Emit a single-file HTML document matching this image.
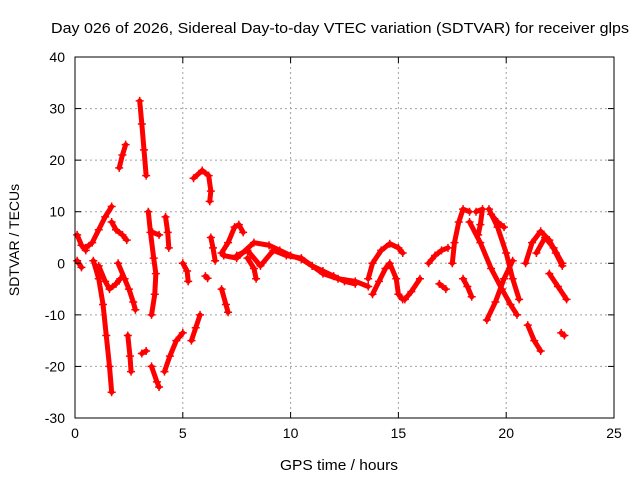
<!DOCTYPE html>
<html><head><meta charset="utf-8"><style>
body{margin:0;background:#fff}
svg{display:block;font-family:"Liberation Sans",sans-serif}
</style></head><body>
<svg id="chart" width="640" height="480" viewBox="0 0 640 480">
<rect width="640" height="480" fill="#fff"/>
<text x="340" y="33" font-size="15" text-anchor="middle" textLength="578" lengthAdjust="spacingAndGlyphs">Day 026 of 2026, Sidereal Day-to-day VTEC variation (SDTVAR) for receiver glps</text>
<text x="339" y="470" font-size="15" text-anchor="middle" textLength="118" lengthAdjust="spacingAndGlyphs">GPS time / hours</text>
<text transform="translate(19,240) rotate(-90)" font-size="14" text-anchor="middle">SDTVAR / TECUs</text>
<g id="grid"></g><g id="marks"></g><g id="axes"></g>
</svg>
<script>
const xTicks=[0,5,10,15,20,25];
const yTicks=[-30,-20,-10,0,10,20,30,40];
const trackA=[[0.5,3],[0.8,4],[1.1,6.5],[1.4,9],[1.7,11]];
const trackA2=[[0.1,5.5],[0.3,3.5],[0.5,2.5]];
const trackA3=[[0.1,0.5],[0.3,-0.8]];
const trackB=[[1.7,8],[1.9,6.5],[2.2,5.5],[2.4,4.5]];
const trackC=[[0.85,0.5],[1.1,-3],[1.3,-8],[1.45,-14],[1.6,-20],[1.7,-25]];
const trackD=[[1.1,-0.5],[1.4,-3.5],[1.6,-5],[1.9,-4],[2.1,-3]];
const trackE=[[2.05,18.5],[2.2,21],[2.35,23]];
const trackF=[[3.0,31.5],[3.1,27],[3.2,22],[3.3,17]];
const trackG=[[2.0,0],[2.3,-3],[2.5,-5],[2.7,-7.5],[2.8,-9]];
const trackH=[[2.45,-14],[2.55,-18],[2.6,-21]];
const trackI=[[3.4,10],[3.5,6],[3.65,1],[3.75,-2],[3.7,-6],[3.55,-10]];
const trackJ=[[4.2,9],[4.3,6],[4.35,3]];
const trackK=[[3.6,6],[3.9,5.5]];
const trackL=[[3.55,-20],[3.8,-23],[3.9,-24]];
const trackM=[[4.15,-21],[4.4,-18],[4.7,-15],[5.0,-13.5]];
const trackN=[[3.1,-17.5],[3.3,-17]];
const trackO=[[5.0,0],[5.2,-1.5],[5.25,-3.5]];
const trackP=[[5.4,-15],[5.6,-12.5],[5.8,-10]];
const trackQ=[[5.5,16.5],[5.9,18],[6.2,17],[6.3,14],[6.25,12]];
const trackR=[[6.05,-2.5],[6.15,-2.9]];
const trackS=[[6.3,5],[6.4,3],[6.5,0.5]];
const trackT=[[6.8,-5],[7.0,-8],[7.1,-9.5]];
const trackU=[[6.8,2],[7.1,4],[7.4,7],[7.6,7.5],[7.8,6]];
const trackV=[[6.9,1.5],[7.5,1],[8.3,4],[9.0,3.5],[9.5,2.5],[10,1.5],[10.5,0.8],[11,-0.5],[11.5,-1.5],[12,-2.5],[12.5,-3.5],[13,-4]];
const trackV2=[[7.5,1.5],[8.0,2.5],[8.6,-0.5],[9.2,2.5],[9.8,1.5],[10.5,1],[11,-0.5],[11.5,-2],[12.2,-3],[13,-3.5],[13.6,-4.5]];
const trackW=[[8.0,1],[8.3,-1],[8.4,-3]];
const trackX1=[[13.6,-3],[13.8,0],[14.2,2.5],[14.6,3.8],[15.0,3],[15.2,2]];
const trackX2=[[13.8,-6],[14.1,-3.5],[14.4,-1],[14.6,0],[14.9,-3],[15.0,-6],[15.2,-7]];
const trackX3=[[15.3,-7],[15.6,-5.5],[16.0,-3]];
const trackY1=[[16.4,0],[16.7,1.5],[17.0,2.5],[17.3,3]];
const trackY2=[[16.9,-4],[17.2,-5]];
const trackY3=[[18.0,-3],[18.2,-4.5],[18.4,-6.5]];
const trackZ=[[17.5,0],[17.6,4],[17.8,8],[18.0,10.5],[18.3,10]];
const trackDesc1=[[18.3,8],[18.8,4],[19.3,-1],[19.8,-5],[20.2,-8],[20.5,-10]];
const trackDesc2=[[19.2,10.5],[19.6,7],[20.0,2],[20.3,-3],[20.6,-7]];
const trackRise=[[19.1,-11],[19.5,-7.5],[19.9,-3],[20.3,0.5]];
const trackXb=[[19.3,9.5],[19.6,8],[19.9,7]];
const trackArc1=[[20.9,0],[21.2,4],[21.6,6.2],[22.0,4.5],[22.3,2],[22.6,-0.5]];
const trackArc2=[[21.4,2],[21.8,5],[22.2,3],[22.6,0]];
const trackR1=[[22.0,-2],[22.4,-4.5],[22.8,-7]];
const trackR2=[[21.0,-12],[21.3,-15],[21.6,-17]];
const trackR3=[[22.55,-13.5],[22.7,-14]];
const trackTop=[[18.6,10],[18.9,10.5],[18.8,7.5],[18.7,5.5]];
const tracks=[trackA,trackA2,trackA3,trackB,trackC,trackD,trackE,trackF,trackG,trackH,trackI,trackJ,trackK,trackL,trackM,trackN,trackO,trackP,trackQ,trackR,trackS,trackT,trackU,trackV,trackV2,trackW,trackX1,trackX2,trackX3,trackY1,trackY2,trackY3,trackZ,trackDesc1,trackDesc2,trackRise,trackXb,trackArc1,trackArc2,trackR1,trackR2,trackR3,trackTop];

const L=75,R=614,T=57,B=418;
const X=h=>L+(h-0)/(25-0)*(R-L);
const Y=v=>B-(v+30)/(70)*(B-T);
const NS="http://www.w3.org/2000/svg";
function mk(tag,attrs,parent){const e=document.createElementNS(NS,tag);for(const k in attrs)e.setAttribute(k,attrs[k]);parent.appendChild(e);return e;}
const grid=document.getElementById('grid'),axes=document.getElementById('axes'),marks=document.getElementById('marks');
xTicks.forEach(t=>{
  if(t>0&&t<25){const g=mk('line',{x1:X(t),x2:X(t),y1:T,y2:B,stroke:'#a0a0a0','stroke-dasharray':'2,3'},grid);
  
  }
  mk('line',{x1:X(t),x2:X(t),y1:B,y2:B-6,stroke:'#000'},axes);
  mk('line',{x1:X(t),x2:X(t),y1:T,y2:T+6,stroke:'#000'},axes);
  const tx=mk('text',{x:X(t),y:B+20,'font-size':14,'text-anchor':'middle'},axes);tx.textContent=t;
  
  
});
yTicks.forEach(t=>{
  if(t>-30&&t<40){const g=mk('line',{x1:L,x2:R,y1:Y(t),y2:Y(t),stroke:'#a0a0a0','stroke-dasharray':'2,3'},grid);
  
  }
  mk('line',{x1:L,x2:L+6,y1:Y(t),y2:Y(t),stroke:'#000'},axes);
  mk('line',{x1:R,x2:R-6,y1:Y(t),y2:Y(t),stroke:'#000'},axes);
  const tx=mk('text',{x:L-10,y:Y(t)+5,'font-size':14,'text-anchor':'end'},axes);tx.textContent=t;
  
  
});
const fr=mk('rect',{x:L,y:T,width:R-L,height:B-T,fill:'none',stroke:'#000'},axes);


tracks.forEach(tr=>{
  const pl=mk('polyline',{points:tr.map(p=>X(p[0])+','+Y(p[1])).join(' '),fill:'none',stroke:'#f00','stroke-width':5,'stroke-linejoin':'round','stroke-linecap':'round'},marks);
  
  
  tr.forEach(p=>{
    const x=X(p[0]),y=Y(p[1]);
    const m=mk('path',{d:`M${x-4},${y}H${x+4}M${x},${y-4}V${y+4}`,stroke:'#f00','stroke-width':1.5},marks);
    
    
  });
});
</script>
</body></html>
